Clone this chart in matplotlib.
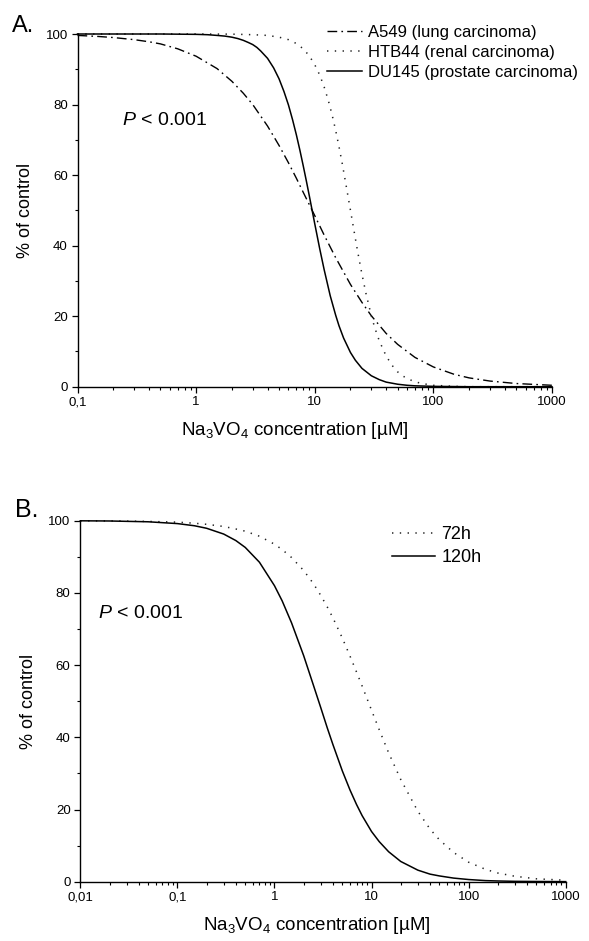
import matplotlib
matplotlib.use("Agg")
import matplotlib.pyplot as plt
from matplotlib.ticker import FixedLocator, FixedFormatter, LogLocator, NullFormatter, MultipleLocator

plt.rcParams['font.family'] = ['Liberation Sans', 'DejaVu Sans']
plt.rcParams['mathtext.fontset'] = 'custom'
plt.rcParams['mathtext.rm'] = 'Liberation Sans'
plt.rcParams['mathtext.it'] = 'Liberation Sans:italic'

# ---------------- Panel A data ----------------
a549_conc = [0.1, 0.15, 0.2, 0.3, 0.4, 0.5, 0.7, 1, 1.5, 2, 2.5, 3, 4, 5, 6, 7, 8, 10, 12, 15, 20, 25, 30, 40, 50, 70, 100, 150, 200, 300, 500, 1000]
a549_pct = [99.6, 99.3, 99.0, 98.4, 97.8, 97.2, 95.8, 93.7, 90.2, 86.6, 83.2, 80.0, 73.9, 68.4, 63.5, 59.1, 55.1, 48.5, 43.0, 36.6, 29.0, 23.9, 20.1, 15.1, 12.0, 8.3, 5.6, 3.5, 2.5, 1.6, 0.9, 0.4]

du145_conc = [0.1, 0.5, 1, 1.25, 1.5, 1.75, 2, 2.25, 2.5, 2.75, 3, 3.25, 3.5, 4, 4.5, 5, 5.5, 6, 6.5, 7, 7.5, 8, 8.5, 9, 10, 11, 12, 13.5, 15, 16, 17.5, 20, 22, 25, 30, 35, 40, 50, 60, 70, 100, 200, 1000]
du145_pct = [100, 100, 99.9, 99.8, 99.6, 99.4, 99.1, 98.7, 98.2, 97.6, 97.0, 96.2, 95.2, 93.1, 90.4, 87.3, 83.7, 79.9, 75.7, 71.4, 67.0, 62.6, 58.3, 54.1, 46.2, 39.2, 33.2, 25.8, 20.3, 17.3, 13.8, 9.7, 7.5, 5.2, 3.1, 2.0, 1.3, 0.7, 0.4, 0.25, 0.1, 0, 0]

htb44_conc = [0.1, 1, 2, 3, 4, 5, 6, 7, 8, 9, 10, 11, 12, 13, 14, 15, 16, 17, 18, 19, 20, 21, 22, 23, 24, 25, 27, 30, 32, 35, 40, 45, 50, 55, 60, 70, 80, 100, 150, 200, 1000]
htb44_pct = [100, 100, 99.96, 99.8, 99.6, 99.1, 98.4, 97.3, 95.8, 93.8, 91.3, 88.4, 85.0, 81.2, 77.1, 72.7, 68.1, 63.5, 58.8, 54.3, 50.0, 45.9, 42.0, 38.3, 35.0, 31.9, 26.5, 20.1, 16.8, 13.0, 8.7, 6.0, 4.2, 3.1, 2.3, 1.4, 0.9, 0.4, 0.1, 0, 0]

labels_A = ["A549 (lung carcinoma)", "HTB44 (renal carcinoma)", "DU145 (prostate carcinoma)"]
xticks_A = [0.1, 1, 10, 100, 1000]
xticklabels_A = ["0,1", "1", "10", "100", "1000"]

# ---------------- Panel B data ----------------
b_conc = [0.01, 0.02, 0.05, 0.1, 0.15, 0.2, 0.3, 0.4, 0.5, 0.7, 1, 1.2, 1.5, 2, 2.5, 3, 3.5, 4, 5, 6, 7, 8, 10, 12, 15, 20, 30, 40, 50, 70, 100, 150, 200, 300, 500, 1000]
h72_pct = [99.97, 99.94, 99.8, 99.6, 99.3, 99.0, 98.4, 97.7, 97.1, 95.7, 93.5, 92.0, 89.8, 86.2, 82.7, 79.3, 76.1, 73.1, 67.5, 62.5, 58.1, 54.2, 47.5, 42.1, 35.7, 28.3, 19.5, 14.6, 11.6, 8.1, 5.4, 3.4, 2.4, 1.5, 0.8, 0.4]
h120_pct = [99.97, 99.92, 99.7, 99.2, 98.6, 97.9, 96.3, 94.5, 92.6, 88.5, 82.0, 77.8, 71.7, 62.6, 54.7, 48.2, 42.6, 38.0, 30.7, 25.4, 21.4, 18.3, 13.9, 11.1, 8.3, 5.6, 3.2, 2.1, 1.6, 1.0, 0.6, 0.3, 0.2, 0.1, 0.06, 0.02]

labels_B = ["72h", "120h"]
xticks_B = [0.01, 0.1, 1, 10, 100, 1000]
xticklabels_B = ["0,01", "0,1", "1", "10", "100", "1000"]

yticks = [0, 20, 40, 60, 80, 100]

W, H = 589, 941
fig = plt.figure(figsize=(W / 100, H / 100), dpi=100)

def px_axes(left, top, right, bottom):
    return fig.add_axes([left / W, 1 - bottom / H, (right - left) / W, (bottom - top) / H])

axA = px_axes(77.5, 34, 552, 386.7)
axB = px_axes(80.3, 520.7, 565.7, 881.7)

DASHDOT = (7, 3, 1.2, 3)
DOTTED = (0.9, 4.2)

def style(ax, xlim, xticks, xticklabels, xlabel_x):
    ax.set_xscale('log')
    ax.set_xlim(*xlim)
    ax.set_ylim(0, 100)
    for s in ('top', 'right'):
        ax.spines[s].set_visible(False)
    for s in ('left', 'bottom'):
        ax.spines[s].set_linewidth(1.0)
    ax.xaxis.set_major_locator(FixedLocator(xticks))
    ax.xaxis.set_major_formatter(FixedFormatter(xticklabels))
    ax.xaxis.set_minor_locator(LogLocator(base=10, subs=range(2, 10), numticks=20))
    ax.xaxis.set_minor_formatter(NullFormatter())
    ax.yaxis.set_major_locator(FixedLocator(yticks))
    ax.yaxis.set_minor_locator(MultipleLocator(10))
    ax.tick_params(which='major', direction='out', length=4.5, width=0.9, labelsize=9.5, pad=2.5, colors='black')
    ax.tick_params(which='minor', direction='out', length=2.5, width=0.8)
    ax.set_ylabel('% of control', fontsize=13, labelpad=8)
    ax.set_xlabel(r'Na$_3$VO$_4$ concentration [µM]', fontsize=13.5, labelpad=8)
    ax.xaxis.label.set_x(xlabel_x)

# Panel A
style(axA, (0.1, 1000), xticks_A, xticklabels_A, 0.458)
axA.plot(a549_conc, a549_pct, color='black', lw=1.0, dashes=DASHDOT, label=labels_A[0], clip_on=False)
axA.plot(htb44_conc, htb44_pct, color='#222222', lw=1.1, dashes=DOTTED, label=labels_A[1], clip_on=False)
axA.plot(du145_conc, du145_pct, color='black', lw=1.1, label=labels_A[2], clip_on=False,
         solid_joinstyle='round')
axA.legend(loc='upper left', bbox_to_anchor=(0.525, 1.026), frameon=False, fontsize=12,
           handlelength=2.1, handletextpad=0.4, labelspacing=0.3, borderpad=0, borderaxespad=0)
axA.text(0.0938, 0.742, r'$P$ < 0.001', transform=axA.transAxes, fontsize=14, ha='left', va='baseline')
fig.text(12 / W, 1 - 32 / H, 'A.', fontsize=17, ha='left', va='baseline')

# Panel B
style(axB, (0.01, 1000), xticks_B, xticklabels_B, 0.488)
axB.plot(b_conc, h72_pct, color='#222222', lw=1.1, dashes=DOTTED, label=labels_B[0], clip_on=False)
axB.plot(b_conc, h120_pct, color='black', lw=1.1, label=labels_B[1], clip_on=False,
         solid_joinstyle='round')
axB.legend(loc='upper left', bbox_to_anchor=(0.642, 0.984), frameon=False, fontsize=13,
           handlelength=2.4, handletextpad=0.35, labelspacing=0.32, borderpad=0, borderaxespad=0)
axB.text(0.037, 0.730, r'$P$ < 0.001', transform=axB.transAxes, fontsize=14, ha='left', va='baseline')
fig.text(15 / W, 1 - 517 / H, 'B.', fontsize=18, ha='left', va='baseline')

fig.savefig('out.png', dpi=100)
